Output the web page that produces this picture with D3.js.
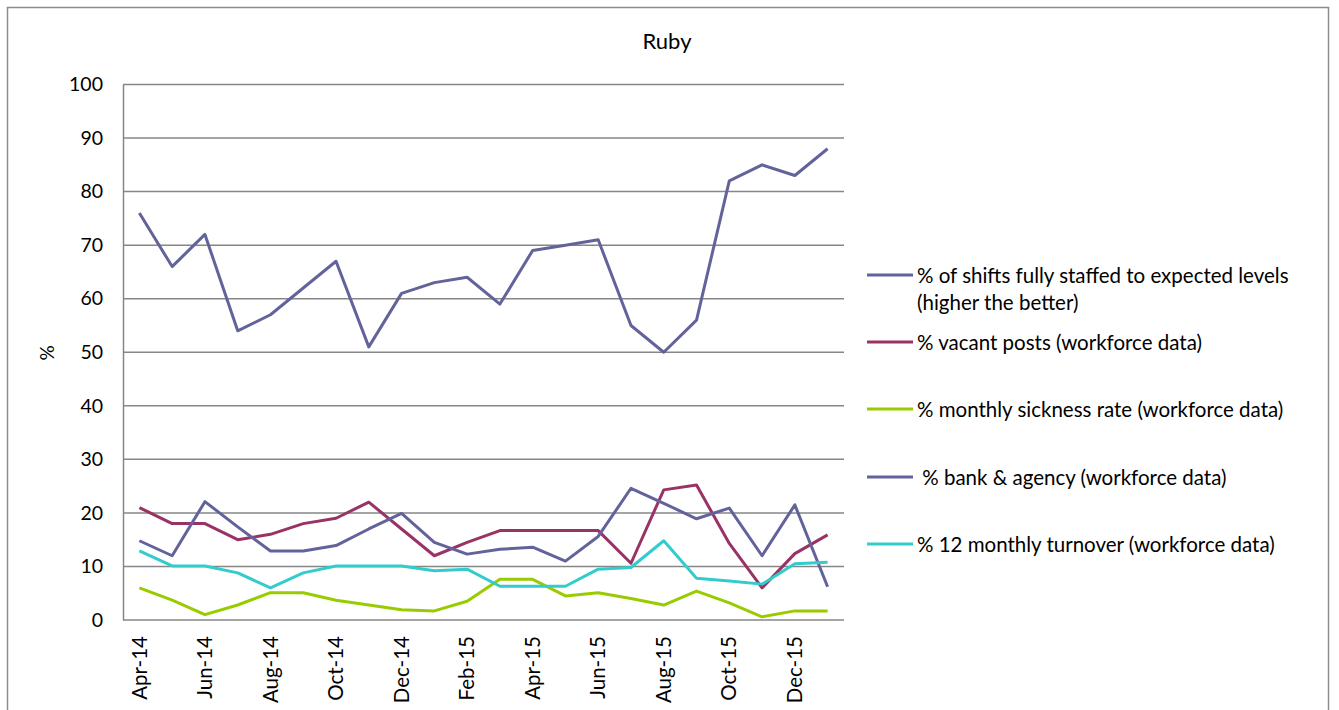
<!DOCTYPE html>
<html>
<head>
<meta charset="utf-8">
<script src="https://cdn.jsdelivr.net/npm/d3@7"></script>
<style>
  body { margin: 0; background: #fff; }
  svg { display: block; font-family: Lato, "Open Sans", sans-serif; }
</style>
</head>
<body>
<svg id="chart" width="1339" height="710"></svg>
<script>
const months = ["Apr-14","May-14","Jun-14","Jul-14","Aug-14","Sep-14","Oct-14","Nov-14","Dec-14","Jan-15","Feb-15","Mar-15",
  "Apr-15","May-15","Jun-15","Jul-15","Aug-15","Sep-15","Oct-15","Nov-15","Dec-15","Jan-16"];
const fullyStaffed = [76,66,72,54,57,62,67,51,61,63,64,59,69,70,71,55,50,56,82,85,83,88];
const vacantPosts = [21,18,18,15,16,18,19,22,17,12,14.5,16.7,16.7,16.7,16.7,10.6,24.3,25.2,14.3,6,12.4,15.9];
const sickness = [6,3.7,1,2.8,5.1,5.1,3.7,2.8,1.9,1.7,3.5,7.6,7.6,4.5,5.1,4,2.8,5.4,3.2,0.6,1.7,1.7];
const bankAgency = [14.8,12,22.1,17.4,12.9,12.9,13.9,17,19.9,14.5,12.3,13.2,13.6,11,15.6,24.6,21.8,18.9,20.9,12,21.5,6.2];
const turnover = [12.9,10.1,10.1,8.8,6,8.8,10.1,10.1,10.1,9.2,9.5,6.3,6.3,6.3,9.5,9.8,14.8,7.8,7.3,6.7,10.5,10.8];
const yTicks = [0,10,20,30,40,50,60,70,80,90,100];

const series = [
  { name: ["% of shifts fully staffed to expected levels", "(higher the better)"], values: fullyStaffed, color: "#63639b" },
  { name: ["% vacant posts (workforce data)"], values: vacantPosts, color: "#993366" },
  { name: ["% monthly sickness rate (workforce data)"], values: sickness, color: "#99cc00" },
  { name: [" % bank & agency (workforce data)"], values: bankAgency, color: "#63639b" },
  { name: ["% 12 monthly turnover (workforce data)"], values: turnover, color: "#33cccc" }
];

const svg = d3.select("#chart");
const plotLeft = 123, plotRight = 844, plotTop = 84.5, plotBottom = 620;

// chart frame
svg.append("rect")
  .attr("x", 7.5).attr("y", 7.5)
  .attr("width", 1321).attr("height", 720)
  .attr("fill", "none").attr("stroke", "#8c8c8c").attr("stroke-width", 1.5);

const x = d3.scaleBand().domain(months).range([plotLeft, plotRight]);
const y = d3.scaleLinear().domain([0, 100]).range([plotBottom, plotTop]);

// gridlines
svg.append("g").selectAll("line").data(yTicks).join("line")
  .attr("x1", plotLeft).attr("x2", plotRight)
  .attr("y1", d => y(d)).attr("y2", d => y(d))
  .attr("stroke", "#868686").attr("stroke-width", 1.5);

// y axis
const yAxis = svg.append("g")
  .attr("transform", `translate(${plotLeft},0)`)
  .call(d3.axisLeft(y).tickValues(yTicks).tickSize(0).tickPadding(20));
yAxis.select(".domain").attr("stroke", "#868686").attr("stroke-width", 1.5);
yAxis.selectAll("text").attr("font-size", 19.5).attr("fill", "#000")
  .attr("font-family", "Lato, sans-serif");

// x axis
const xAxis = svg.append("g")
  .attr("transform", `translate(0,${plotBottom})`)
  .call(d3.axisBottom(x).tickValues(months.filter((d, i) => i % 2 === 0)).tickSize(0));
xAxis.select(".domain").remove();
xAxis.selectAll("text")
  .attr("font-size", 20.5).attr("fill", "#000").attr("font-family", "Lato, sans-serif")
  .attr("transform", "rotate(-90)")
  .attr("text-anchor", "end")
  .attr("x", -16).attr("y", 0).attr("dy", "0.35em");

// lines
const line = d3.line()
  .x((d, i) => x(months[i]) + x.bandwidth() / 2)
  .y(d => y(d));
svg.append("g").selectAll("path").data(series).join("path")
  .attr("d", d => line(d.values))
  .attr("fill", "none")
  .attr("stroke", d => d.color)
  .attr("stroke-width", 3)
  .attr("stroke-linejoin", "round");

// title
svg.append("text")
  .attr("x", 667).attr("y", 49)
  .attr("text-anchor", "middle")
  .attr("font-size", 22)
  .text("Ruby");

// y label
svg.append("text")
  .attr("transform", "translate(54,353) rotate(-90)")
  .attr("text-anchor", "middle")
  .attr("font-size", 19)
  .text("%");

// legend
const legendY = [275, 342, 409, 477, 544];
const legend = svg.append("g").selectAll("g").data(series).join("g")
  .attr("transform", (d, i) => `translate(867,${legendY[i]})`);
legend.append("line")
  .attr("x1", 0).attr("x2", 46)
  .attr("stroke", d => d.color).attr("stroke-width", 3);
legend.append("text")
  .attr("x", 50)
  .attr("font-size", 20.5)
  .style("white-space", "pre")
  .selectAll("tspan").data(d => d.name).join("tspan")
  .attr("x", 50)
  .attr("y", (d, i) => i * 27)
  .attr("dy", "0.38em")
  .text(d => d);
</script>
</body>
</html>
